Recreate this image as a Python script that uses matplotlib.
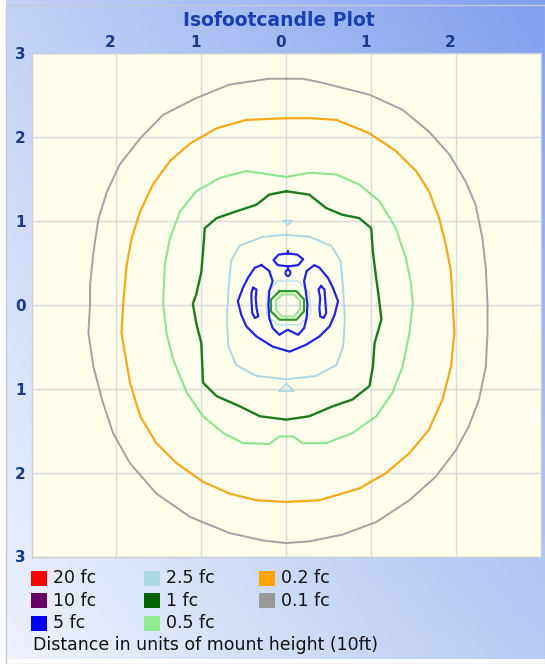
import numpy as np
import matplotlib
matplotlib.use('Agg')
import matplotlib.pyplot as plt
from matplotlib.patches import Rectangle
from matplotlib.colors import to_rgb
from matplotlib.transforms import ScaledTranslation

# isofootcandle outlines, in units of mount height (x right, y up)
gray_x = [0, 0.19, 0.39, 0.98, 1.37, 1.68, 1.92, 2.11, 2.23, 2.31, 2.35, 2.37, 2.37, 2.35, 2.27, 2.15, 2.00,
          1.76, 1.45, 1.06, 0.66, 0.27, 0, -0.27, -0.67, -1.13, -1.53, -1.84, -2.04, -2.17, -2.27, -2.33,
          -2.31, -2.31, -2.27, -2.21, -2.11, -1.96, -1.72, -1.45, -1.06, -0.67, -0.2]
gray_y = [2.69, 2.69, 2.65, 2.50, 2.32, 2.06, 1.79, 1.47, 1.19, 0.79, 0.43, 0.01, -0.34, -0.74, -1.13, -1.45,
          -1.73, -2.05, -2.33, -2.59, -2.74, -2.82, -2.84, -2.81, -2.72, -2.53, -2.25, -1.89, -1.53, -1.13,
          -0.74, -0.34, 0.01, 0.24, 0.63, 1.03, 1.35, 1.67, 1.98, 2.26, 2.46, 2.62, 2.69]

orange_x = [0, 0.27, 0.59, 0.98, 1.29, 1.53, 1.68, 1.80, 1.88, 1.94, 1.96, 1.98, 1.94, 1.84, 1.68, 1.45, 1.17,
            0.86, 0.39, 0, -0.35, -0.67, -0.98, -1.29, -1.53, -1.72, -1.84, -1.94, -1.92, -1.88, -1.82, -1.72,
            -1.57, -1.37, -1.13, -0.82, -0.47]
orange_y = [2.22, 2.22, 2.20, 2.04, 1.83, 1.59, 1.35, 1.03, 0.71, 0.39, 0.01, -0.34, -0.74, -1.13, -1.49, -1.77,
            -2.01, -2.19, -2.33, -2.35, -2.33, -2.25, -2.11, -1.89, -1.65, -1.33, -0.93, -0.34, 0.01, 0.47,
            0.79, 1.11, 1.43, 1.71, 1.92, 2.10, 2.20]

lgreen_x = [0, 0.27, 0.59, 0.86, 1.10, 1.29, 1.41, 1.47, 1.49, 1.45, 1.37, 1.25, 1.06, 0.78, 0.47, 0.19, 0.08,
            -0.08, -0.2, -0.51, -0.74, -0.98, -1.17, -1.33, -1.41, -1.45, -1.43, -1.37, -1.25, -1.06, -0.78,
            -0.47, -0.2]
lgreen_y = [1.52, 1.57, 1.55, 1.43, 1.23, 0.91, 0.55, 0.24, 0.01, -0.34, -0.74, -1.05, -1.33, -1.53, -1.65,
            -1.65, -1.57, -1.57, -1.66, -1.65, -1.53, -1.33, -1.05, -0.66, -0.34, 0.01, 0.47, 0.79, 1.11, 1.35,
            1.51, 1.59, 1.55]

dgreen_x = [0, 0.27, 0.47, 0.66, 0.86, 1.00, 1.02, 1.06, 1.10, 1.12, 1.04, 1.02, 0.98, 0.78, 0.55, 0.27, 0,
            -0.31, -0.55, -0.82, -0.98, -1.00, -1.06, -1.10, -1.06, -1.00, -0.98, -0.96, -0.82, -0.59, -0.35,
            -0.2]
dgreen_y = [1.35, 1.31, 1.15, 1.07, 1.03, 0.91, 0.63, 0.31, 0.01, -0.18, -0.46, -0.74, -0.97, -1.13, -1.21,
            -1.33, -1.37, -1.33, -1.21, -1.09, -0.93, -0.46, -0.22, 0.01, 0.12, 0.39, 0.63, 0.91, 1.03, 1.11,
            1.19, 1.31]

lblue_x = [0, 0.27, 0.53, 0.64, 0.67, 0.69, 0.67, 0.59, 0.35, 0, -0.35, -0.59, -0.68, -0.70, -0.68, -0.65,
           -0.55, -0.27]
lblue_y = [0.83, 0.81, 0.70, 0.52, 0.18, -0.18, -0.50, -0.72, -0.85, -0.89, -0.85, -0.72, -0.50, -0.18, 0.18,
           0.52, 0.70, 0.81]
lblue_ring_x = [-0.10, 0.14, 0.27, 0.29, 0.16, -0.10, -0.23, -0.23]
lblue_ring_y = [0.28, 0.28, 0.14, -0.10, -0.24, -0.24, -0.12, 0.14]
lblue_top_x = [-0.03, 0.07, 0.02]
lblue_top_y = [1.00, 1.00, 0.95]
lblue_bot_x = [-0.08, 0.0, 0.09]
lblue_bot_y = [-1.03, -0.94, -1.03]

blue_x = [-0.29, -0.20, -0.16, -0.20, -0.21, -0.20, -0.16, -0.08, -0.02, 0.02, 0.06, 0.14, 0.21, 0.24, 0.25,
          0.23, 0.21, 0.24, 0.33, 0.39, 0.49, 0.55, 0.61, 0.57, 0.51, 0.39, 0.23, 0.04, -0.16, -0.35, -0.47,
          -0.53, -0.57, -0.51, -0.45, -0.37]
blue_y = [0.47, 0.40, 0.28, 0.16, 0.00, -0.16, -0.28, -0.36, -0.32, -0.30, -0.32, -0.36, -0.28, -0.16, 0.00,
          0.16, 0.28, 0.40, 0.47, 0.44, 0.32, 0.20, 0.04, -0.12, -0.26, -0.38, -0.48, -0.56, -0.50, -0.38,
          -0.26, -0.12, 0.04, 0.20, 0.32, 0.44]
blue_left_x = [-0.39, -0.35, -0.36, -0.35, -0.33, -0.37, -0.40, -0.41, -0.41]
blue_left_y = [0.20, 0.18, 0.08, -0.04, -0.14, -0.16, -0.10, 0.04, 0.14]
blue_right_x = [0.41, 0.45, 0.46, 0.47, 0.44, 0.40, 0.39, 0.40, 0.38]
blue_right_y = [0.22, 0.18, 0.04, -0.10, -0.16, -0.14, -0.04, 0.08, 0.18]
blue_oval_x = [0.02, 0.13, 0.20, 0.14, 0.02, -0.10, -0.15, -0.09]
blue_oval_y = [0.61, 0.595, 0.54, 0.47, 0.455, 0.47, 0.53, 0.595]
blue_dot_x = [0.02, 0.045, 0.05, 0.035, 0.02, 0.005, -0.01, -0.005]
blue_dot_y = [0.415, 0.40, 0.37, 0.345, 0.34, 0.345, 0.37, 0.40]
blue_stem_x = [0.02, 0.02]
blue_stem_y = [0.455, 0.415]
blue_tip_x = [0.02, 0.02]
blue_tip_y = [0.61, 0.64]

ring_dg_x = [-0.08, 0.12, 0.21, 0.21, 0.12, -0.08, -0.18, -0.18]
ring_dg_y = [0.16, 0.16, 0.06, -0.08, -0.18, -0.18, -0.08, 0.06]
ring_lg_x = [-0.05, 0.09, 0.16, 0.16, 0.09, -0.05, -0.12, -0.12]
ring_lg_y = [0.12, 0.12, 0.05, -0.06, -0.14, -0.14, -0.06, 0.05]

legend_labels = ['20 fc', '10 fc', '5 fc', '2.5 fc', '1 fc', '0.5 fc', '0.2 fc', '0.1 fc']
legend_colors = ['#ff0000', '#660066', '#0000ff', '#add8e6', '#006400', '#90ee90', '#ffa500', '#999999']

x_ticks = [-2, -1, 0, 1, 2]
x_labels = ['2', '1', '0', '1', '2']
y_ticks = [-3, -2, -1, 0, 1, 2, 3]
y_labels = ['3', '2', '1', '0', '1', '2', '3']

W, H = 545, 664
fig = plt.figure(figsize=(W / 100, H / 100), dpi=100)
fig.patch.set_facecolor('white')

# blue gradient panel behind everything
bg = fig.add_axes([0, 0, 1, 1], zorder=0)
bg.set_axis_off()
tl, tr = np.array(to_rgb('#c3d3f7')), np.array(to_rgb('#7f9ff0'))
bl, br = np.array(to_rgb('#eef2fc')), np.array(to_rgb('#b8cbf4'))
u = np.linspace(0, 1, 200)[None, :, None]
v = np.linspace(0, 1, 200)[:, None, None]
grad = (1 - v) * ((1 - u) * tl + u * tr) + v * ((1 - u) * bl + u * br)
bg.imshow(grad, extent=[6, W, H - 5, 0], aspect='auto', interpolation='bilinear')
bg.set_xlim(0, W)
bg.set_ylim(H, 0)
bg.add_patch(Rectangle((6, 5), W - 6, H - 5, fill=False, edgecolor='#c4c8d4', lw=1))

fig.text(279 / W, 1 - 20 / H, 'Isofootcandle Plot', ha='center', va='center',
         fontsize=13.5, fontweight='bold', color='#1a3fb0')

ax = fig.add_axes([31.5 / W, 1 - 556.5 / H, (541 - 31.5) / W, (556.5 - 52.7) / H], zorder=1)
ax.set_facecolor('#fefeeb')
ax.set_xlim(-3, 3)
ax.set_ylim(-3, 3)
ax.grid(True, color='#dadada', lw=1.0)
ax.set_axisbelow(True)
for s in ax.spines.values():
    s.set_color('#c8cdd8')
    s.set_linewidth(1)

ax.xaxis.tick_top()
ax.set_xticks(x_ticks)
ax.set_xticklabels(x_labels)
ax.set_yticks(y_ticks)
ax.set_yticklabels(y_labels)
ax.tick_params(axis='x', length=0, pad=2, labelsize=11, labelcolor='#1c3a8c')
ax.tick_params(axis='y', length=0, pad=4, labelsize=11, labelcolor='#1c3a8c')
for lab in ax.get_xticklabels() + ax.get_yticklabels():
    lab.set_fontweight('bold')
for lab in ax.get_xticklabels():
    lab.set_transform(lab.get_transform() + ScaledTranslation(-6 / 100, 0, fig.dpi_scale_trans))

shapes = [
    (gray_x, gray_y, '#a3a3a3', 1.4, True),
    (orange_x, orange_y, '#f5a81c', 1.6, True),
    (lgreen_x, lgreen_y, '#8ee38e', 1.5, True),
    (dgreen_x, dgreen_y, '#1b7a1b', 1.7, True),
    (lblue_x, lblue_y, '#acd6e4', 1.4, True),
    (lblue_ring_x, lblue_ring_y, '#c4e2ec', 1.2, True),
    (lblue_top_x, lblue_top_y, '#acd6e4', 1.2, True),
    (lblue_bot_x, lblue_bot_y, '#acd6e4', 1.2, True),
    (ring_dg_x, ring_dg_y, '#2c9a2c', 1.6, True),
    (ring_lg_x, ring_lg_y, '#8ee38e', 1.3, True),
    (blue_x, blue_y, '#2222e0', 1.6, True),
    (blue_left_x, blue_left_y, '#2222e0', 1.6, True),
    (blue_right_x, blue_right_y, '#2222e0', 1.6, True),
    (blue_oval_x, blue_oval_y, '#2222e0', 1.6, True),
    (blue_dot_x, blue_dot_y, '#2222e0', 1.5, True),
    (blue_stem_x, blue_stem_y, '#2222e0', 1.5, False),
    (blue_tip_x, blue_tip_y, '#2222e0', 1.5, False),
]
for xs, ys, col, lw, closed in shapes:
    if closed:
        xs = list(xs) + [xs[0]]
        ys = list(ys) + [ys[0]]
    ax.plot(xs, ys, color=col, lw=lw, solid_joinstyle='round')

# legend block below the plot
col_x = [31, 144, 259]
row_y = [578, 600.5, 623]
for i, (lab, col) in enumerate(zip(legend_labels, legend_colors)):
    cx, cy = col_x[i // 3], row_y[i % 3]
    bg.add_patch(Rectangle((cx, cy - 7.5), 16, 15, facecolor=col, edgecolor='none', zorder=3))
    bg.text(cx + 22, cy, lab, ha='left', va='center', fontsize=12.5, color='#111111', zorder=3)
bg.text(33, 645, 'Distance in units of mount height (10ft)', ha='left', va='center',
        fontsize=12.5, color='#111111', zorder=3)

fig.savefig('out.png', dpi=100)
